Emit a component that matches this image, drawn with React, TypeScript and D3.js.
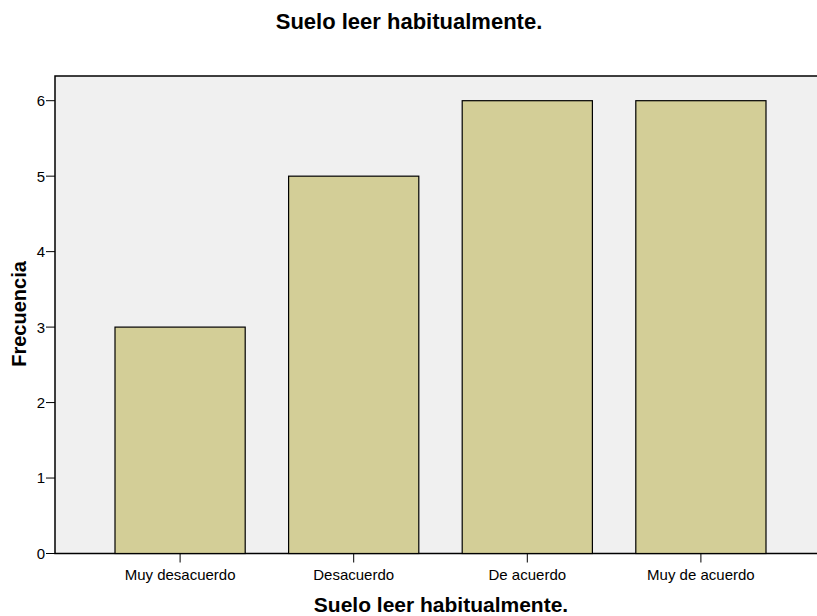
import React from "react";
import * as d3 from "d3";

const categories = ["Muy desacuerdo", "Desacuerdo", "De acuerdo", "Muy de acuerdo"];
const values = [3, 5, 6, 6];
const yTicks = [0, 1, 2, 3, 4, 5, 6];

const W = 817;
const H = 616;
const left = 55;
const top = 76;
const bottom = 553.5;
const right = 830;

export default function App() {
  const x = d3
    .scaleBand<string>()
    .domain(categories)
    .range([93.3, 787.7])
    .paddingInner(0.25)
    .paddingOuter(0.125);
  const y = d3.scaleLinear().domain([0, 6]).range([bottom, 100.7]);
  const font = "Arial, 'Liberation Sans', sans-serif";
  return (
    <svg
      width={W}
      height={H}
      style={{ position: "absolute", left: 0, top: 0 }}
      fontFamily={font}
    >
      <rect x={0} y={0} width={W} height={H} fill="#fff" />
      <text x={409} y={29} textAnchor="middle" fontSize={22} fontWeight="bold">
        Suelo leer habitualmente.
      </text>
      <rect x={left} y={top} width={right - left} height={bottom - top} fill="#F0F0F0" stroke="#000" strokeWidth={1.5} />
      {categories.map((c, i) => (
        <rect
          key={c}
          x={x(c)!}
          y={y(values[i])}
          width={x.bandwidth()}
          height={bottom - y(values[i])}
          fill="#D3CE97"
          stroke="#000"
          strokeWidth={1.2}
        />
      ))}
      <line x1={left} x2={right} y1={bottom} y2={bottom} stroke="#000" strokeWidth={1.2} />
      {yTicks.map((t) => (
        <g key={t}>
          <line x1={left - 9} x2={left} y1={y(t)} y2={y(t)} stroke="#000" strokeWidth={1} />
          <text x={left - 10} y={y(t)} dy="0.36em" textAnchor="end" fontSize={15}>
            {t}
          </text>
        </g>
      ))}
      {categories.map((c) => {
        const cx = x(c)! + x.bandwidth() / 2;
        return (
          <g key={c}>
            <line x1={cx} x2={cx} y1={bottom} y2={bottom + 9} stroke="#000" strokeWidth={1} />
            <text x={cx} y={580} textAnchor="middle" fontSize={15}>
              {c}
            </text>
          </g>
        );
      })}
      <text x={441} y={612} textAnchor="middle" fontSize={21} fontWeight="bold">
        Suelo leer habitualmente.
      </text>
      <text
        transform={`translate(26,314) rotate(-90)`}
        textAnchor="middle"
        fontSize={20}
        fontWeight="bold"
      >
        Frecuencia
      </text>
    </svg>
  );
}
